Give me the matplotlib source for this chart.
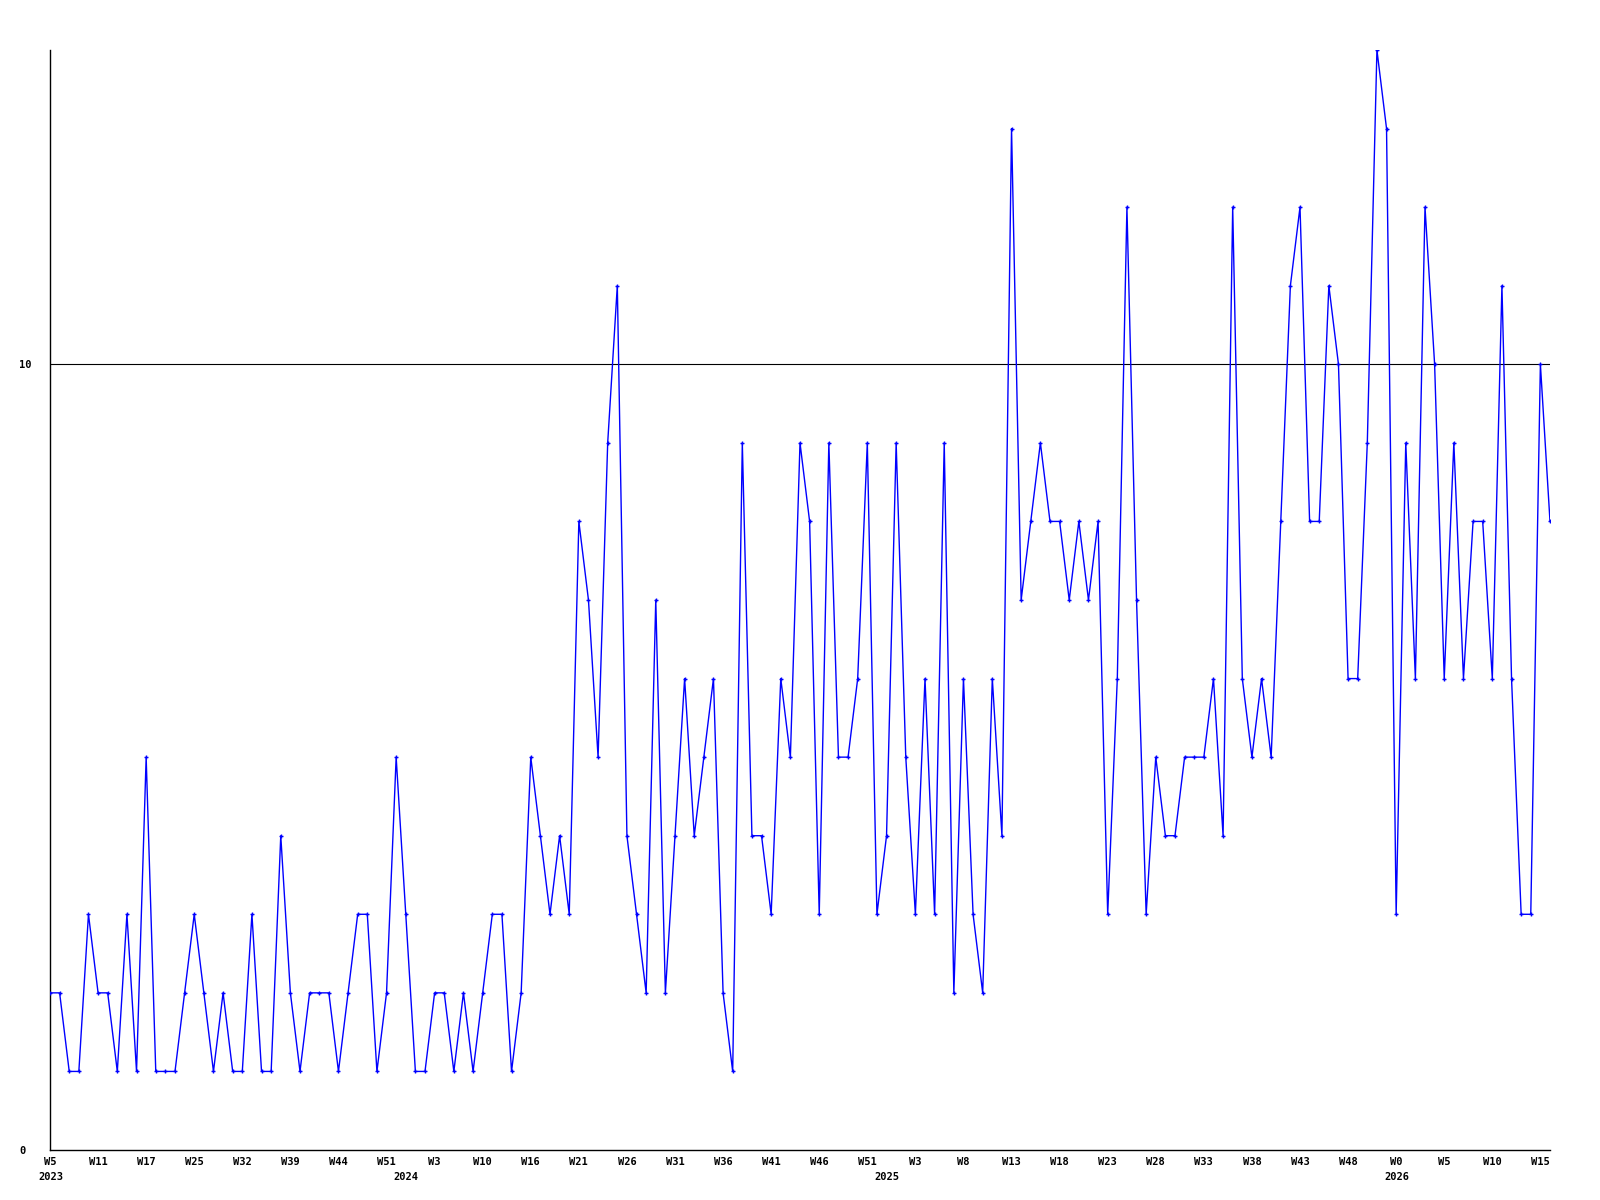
import numpy as np
import matplotlib
matplotlib.use("Agg")
import matplotlib.pyplot as plt

# ukentlige verdier, en per datapunkt (uker uten data er hoppet over)
verdier = [2, 2, 1, 1, 3, 2, 2, 1, 3, 1,
           5, 1, 1, 1, 2, 3, 2, 1, 2, 1,
           1, 3, 1, 1, 4, 2, 1, 2, 2, 2,
           1, 2, 3, 3, 1, 2, 5, 3, 1, 1,
           2, 2, 1, 2, 1, 2, 3, 3, 1, 2,
           5, 4, 3, 4, 3, 8, 7, 5, 9, 11,
           4, 3, 2, 7, 2, 4, 6, 4, 5, 6,
           2, 1, 9, 4, 4, 3, 6, 5, 9, 8,
           3, 9, 5, 5, 6, 9, 3, 4, 9, 5,
           3, 6, 3, 9, 2, 6, 3, 2, 6, 4,
           13, 7, 8, 9, 8, 8, 7, 8, 7, 8,
           3, 6, 12, 7, 3, 5, 4, 4, 5, 5,
           5, 6, 4, 12, 6, 5, 6, 5, 8, 11,
           12, 8, 8, 11, 10, 6, 6, 9, 14, 13,
           3, 9, 6, 12, 10, 6, 9, 6, 8, 8,
           6, 11, 6, 3, 3, 10, 8]

# ukeetiketter, hvert femte punkt
uke_etiketter = ['W5', 'W11', 'W17', 'W25', 'W32', 'W39', 'W44', 'W51',
                 'W3', 'W10', 'W16', 'W21', 'W26', 'W31', 'W36', 'W41',
                 'W46', 'W51', 'W3', 'W8', 'W13', 'W18', 'W23', 'W28',
                 'W33', 'W38', 'W43', 'W48', 'W0', 'W5', 'W10', 'W15']

# aarstall og punktet der aaret starter
aar = ['2023', '2024', '2025', '2026']
aar_punkt = [0, 37, 87, 140]

grense = 10
y_ticks = [0, 10]

x_verdier = np.arange(len(verdier))
font = 'DejaVu Sans Mono'

fig = plt.figure(figsize=(16, 12), dpi=100)
ax = fig.add_axes([50/1600, 50/1200, 1500/1600, 1100/1200])

ax.axhline(grense, color='black', linewidth=0.8, zorder=1)
ax.plot(x_verdier, verdier, color='#0000ff', linewidth=1.0,
        marker='+', markersize=3, markeredgewidth=1.0, zorder=3)

ax.set_xlim(0, len(verdier) - 1)
ax.set_ylim(0, 14)

ax.spines['top'].set_visible(False)
ax.spines['right'].set_visible(False)
ax.spines['left'].set_linewidth(1.0)
ax.spines['bottom'].set_linewidth(1.0)

ax.set_yticks(y_ticks)
ax.set_yticklabels([str(t) for t in y_ticks], fontsize=7.5,
                   fontfamily=font, fontweight='bold', ha='left')
ax.tick_params(axis='y', length=0, pad=22)

ax.set_xticks(np.arange(0, len(uke_etiketter) * 5, 5))
ax.set_xticklabels(uke_etiketter, fontsize=7.5, fontfamily=font,
                   fontweight='bold')
ax.tick_params(axis='x', length=0, pad=5)

# aarstall under ukene
for a, p in zip(aar, aar_punkt):
    ax.annotate(a, xy=(p, 0), xycoords='data', xytext=(-12, -22),
                textcoords='offset pixels', ha='left', va='top',
                fontsize=7.5, fontfamily=font, fontweight='bold')

fig.savefig('out.png', dpi=100)
